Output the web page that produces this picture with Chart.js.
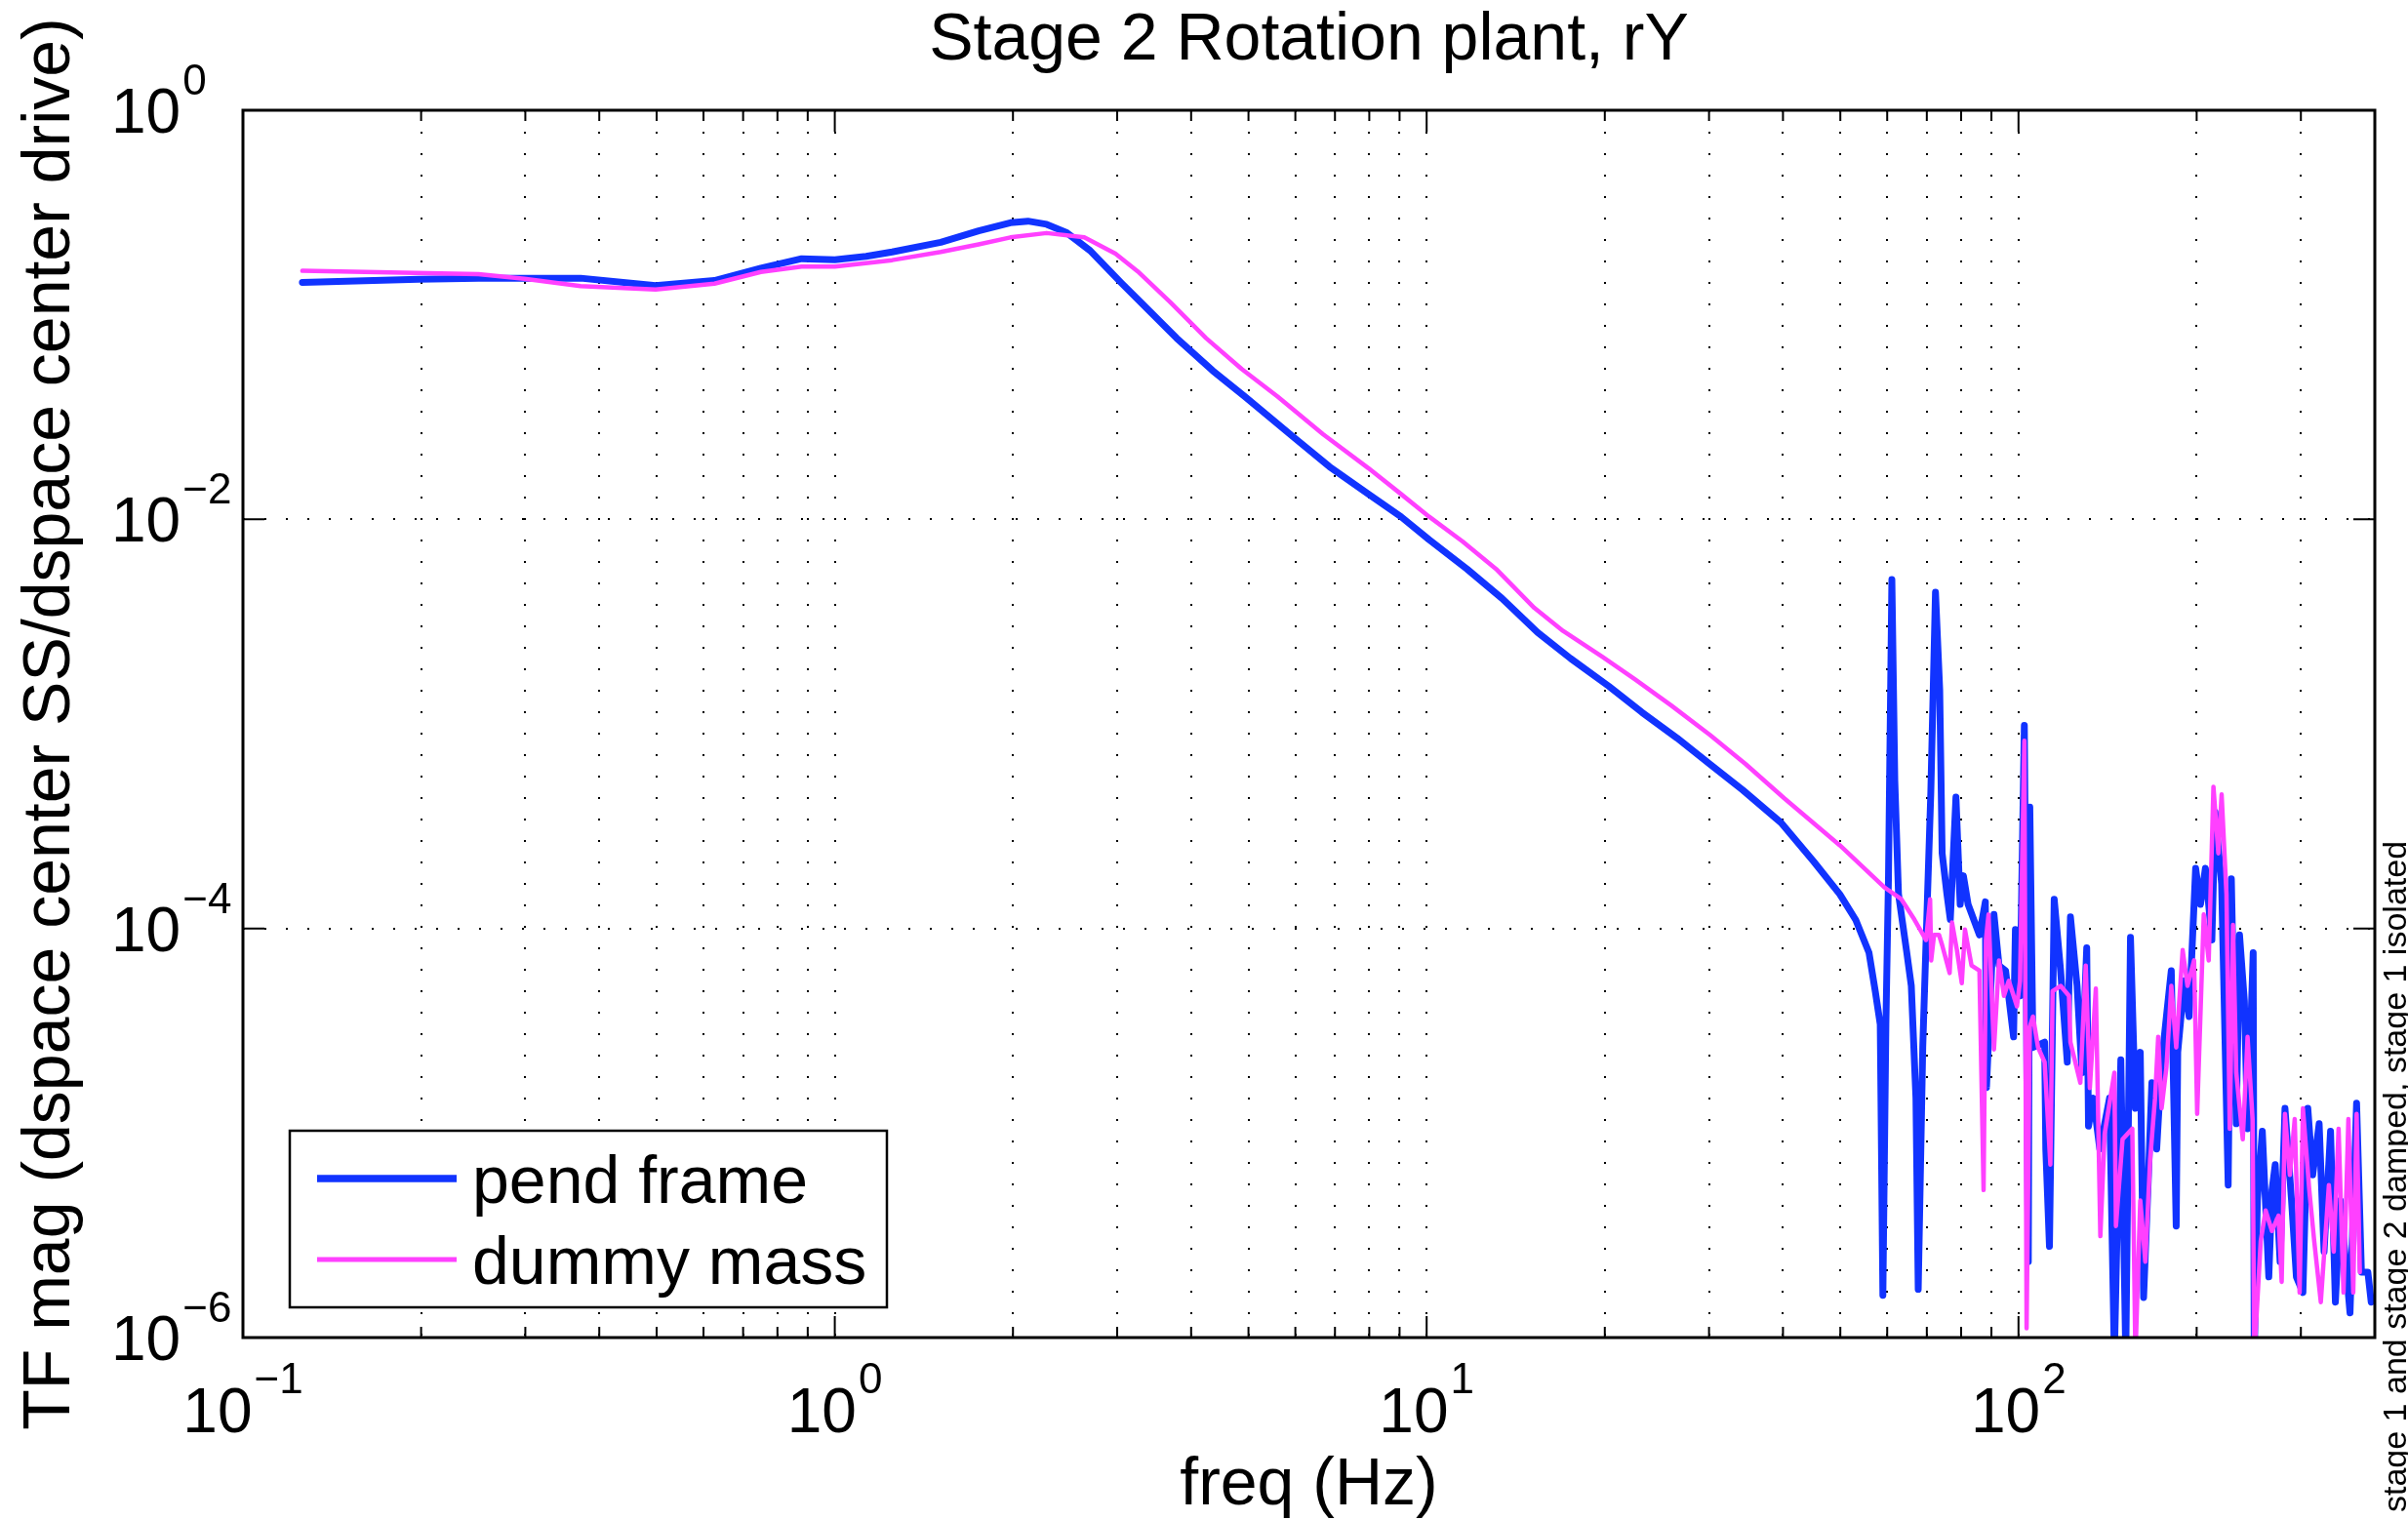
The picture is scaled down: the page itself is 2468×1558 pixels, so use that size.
<!DOCTYPE html>
<html>
<head>
<meta charset="utf-8">
<title>Stage 2 Rotation plant, rY</title>
<script src="https://cdn.jsdelivr.net/npm/chart.js@4.4.1/dist/chart.umd.min.js"></script>
<style>
  html, body { margin: 0; padding: 0; background: #fff; }
</style>
</head>
<body>
<canvas id="grafico" width="2468" height="1558"></canvas>
<script>
// textos
const titulo = "Stage 2 Rotation plant, rY";
const etiquetaX = "freq (Hz)";
const etiquetaY = "TF mag (dspace center SS/dspace center drive)";
const nota = "stage 1 and stage 2 damped, stage 1 isolated";
const nombres = ["pend frame", "dummy mass"];

// ticks con etiqueta (10^exp)
const xTickValues = [0.1, 1, 10, 100];
const xTickExp = ["\u22121", "0", "1", "2"];
const yTickValues = [1, 1e-2, 1e-4, 1e-6];
const yTickExp = ["0", "\u22122", "\u22124", "\u22126"];

// lineas de grilla verticales (1..9 x decada)
const xGridValues = [
  0.1, 0.2, 0.3, 0.4, 0.5, 0.6, 0.7, 0.8, 0.9,
  1, 2, 3, 4, 5, 6, 7, 8, 9,
  10, 20, 30, 40, 50, 60, 70, 80, 90,
  100, 200, 300, 400
];

// pend frame (azul)
const pendFreq = [
  0.126, 0.198, 0.250, 0.372, 0.498, 0.626, 0.750, 0.879, 1.00, 1.13,
  1.25, 1.51, 1.75, 1.98, 2.12, 2.28, 2.46, 2.70, 3.05, 3.29,
  3.78, 4.35, 4.93, 5.96, 6.85, 7.97, 9.05, 10.1, 11.7, 13.4,
  15.4, 17.5, 20.3, 23.1, 26.5, 30.1, 34.2, 39.7, 45.1, 49.9,
  53.1, 55.9, 57.3, 58.4, 59.0, 59.7, 60.3, 61.1, 61.8, 62.7,
  64.7, 65.9, 67.1, 67.7, 68.9, 70.2, 71.1, 72.4, 73.6, 74.3,
  75.7, 76.7, 78.4, 79.7, 80.7, 82.2, 85.9, 87.9, 88.3, 90.9,
  92.7, 95.1, 98.1, 98.8, 100.6, 102.3, 103.9, 104.5, 105.8, 110.7,
  111.2, 112.8, 114.9, 117.8, 120.9, 122.4, 125.6, 128.0, 130.4, 131.3,
  133.8, 137.2, 142.5, 145.2, 148.9, 151.8, 154.6, 157.6, 160.6, 162.7,
  165.8, 168.0, 171.2, 174.5, 177.8, 181.2, 184.7, 185.8, 190.6, 194.2,
  199.2, 203.0, 206.9, 212.2, 214.9, 220.4, 226.1, 228.9, 233.3, 236.3,
  240.8, 243.8, 249.2, 250.2, 253.3, 258.2, 264.8, 268.1, 271.5, 276.7,
  282.0, 289.3, 294.8, 302.4, 308.2, 314.1, 322.1, 328.3, 336.7, 343.1,
  349.8, 363.2, 372.6, 379.7, 389.3, 394.4
];
const pendMag = [
  0.144, 0.149, 0.151, 0.151, 0.139, 0.147, 0.169, 0.188, 0.186, 0.193,
  0.203, 0.226, 0.257, 0.282, 0.287, 0.277, 0.253, 0.206, 0.143, 0.115,
  0.0769, 0.0533, 0.0398, 0.0252, 0.0181, 0.0133, 0.0103, 0.00795, 0.00572, 0.00411,
  0.00280, 0.00209, 0.00153, 0.00114, 8.52e-4, 6.36e-4, 4.75e-4, 3.29e-4, 2.12e-4, 1.47e-4,
  1.10e-4, 7.61e-5, 4.90e-5, 3.40e-5, 1.61e-6, 3.40e-5, 1.77e-4, 5.08e-3, 5.30e-4, 1.47e-4,
  7.75e-5, 5.24e-5, 1.48e-5, 1.72e-6, 2.62e-5, 1.47e-4, 4.65e-4, 4.41e-3, 1.47e-3, 2.33e-4,
  1.47e-4, 1.105e-4, 4.39e-4, 1.31e-4, 1.81e-4, 1.31e-4, 9.30e-5, 1.35e-4, 1.67e-5, 1.17e-4,
  6.59e-5, 6.22e-5, 2.95e-5, 9.87e-5, 4.68e-5, 9.83e-4, 2.35e-6, 3.92e-4, 2.62e-5, 2.78e-5,
  8.34e-6, 2.79e-6, 1.39e-4, 6.22e-5, 2.22e-5, 1.14e-4, 5.24e-5, 1.97e-5, 8.05e-5, 1.08e-5,
  1.48e-5, 8.34e-6, 1.48e-5, 8e-7, 2.28e-5, 8e-7, 9.04e-5, 1.32e-5, 2.48e-5, 1.57e-6,
  6.24e-6, 1.76e-5, 8.34e-6, 2.22e-5, 3.71e-5, 6.22e-5, 3.51e-6, 2.48e-5, 5.55e-5, 3.71e-5,
  1.97e-4, 1.31e-4, 1.97e-4, 8.78e-5, 3.70e-4, 1.65e-4, 5.56e-6, 1.75e-4, 1.11e-5, 9.30e-5,
  4.41e-5, 1.05e-5, 7.61e-5, 8e-7, 4.68e-6, 1.02e-5, 1.98e-6, 5.26e-6, 7.00e-6, 2.35e-6,
  1.32e-5, 4.68e-6, 1.98e-6, 1.66e-6, 1.32e-5, 6.24e-6, 1.11e-5, 2.63e-6, 1.02e-5, 1.49e-6,
  4.68e-6, 1.32e-6, 1.40e-5, 2.09e-6, 2.09e-6, 1.49e-6
];

// dummy mass (magenta)
const dummyFreq = [
  0.126, 0.250, 0.299, 0.372, 0.498, 0.626, 0.750, 0.879, 1.00, 1.25,
  1.51, 1.75, 1.98, 2.28, 2.64, 2.98, 3.25, 3.69, 4.24, 4.87,
  5.60, 6.68, 7.97, 9.05, 10.1, 11.5, 13.1, 15.2, 17.0, 19.8,
  22.5, 25.9, 30.1, 34.6, 40.2, 49.9, 59.5, 63.4, 66.7, 69.8,
  70.9, 71.2, 72.0, 73.4, 74.3, 76.5, 77.2, 78.7, 80.2, 81.2,
  83.3, 85.9, 87.3, 88.1, 89.0, 90.9, 92.7, 94.5, 96.3, 99.4,
  100.6, 102.3, 103.2, 104.5, 105.8, 107.9, 110.7, 113.2, 114.2, 117.8,
  121.7, 122.4, 127.2, 129.9, 132.0, 135.1, 137.5, 139.8, 145.2, 146.1,
  149.9, 155.7, 157.6, 160.6, 163.8, 166.9, 170.1, 172.2, 174.5, 177.8,
  181.2, 184.7, 189.4, 193.0, 198.0, 200.4, 205.6, 209.6, 213.5, 217.6,
  220.4, 224.6, 227.5, 230.4, 233.3, 239.3, 243.8, 248.6, 250.2, 256.6,
  261.5, 268.1, 275.0, 278.4, 282.0, 287.4, 292.9, 298.5, 302.4, 310.0,
  316.0, 324.2, 334.5, 340.9, 347.4, 354.1, 360.9, 367.8, 372.6, 377.3
];
const dummyMag = [
  0.164, 0.158, 0.150, 0.138, 0.133, 0.142, 0.162, 0.172, 0.172, 0.185,
  0.203, 0.221, 0.239, 0.251, 0.239, 0.199, 0.163, 0.115, 0.0769, 0.0543,
  0.0398, 0.0261, 0.0178, 0.0133, 0.0103, 0.00780, 0.00572, 0.00369, 0.00285, 0.00213,
  0.00165, 0.00123, 8.84e-4, 6.36e-4, 4.33e-4, 2.55e-4, 1.58e-4, 1.39e-4, 1.105e-4, 8.78e-5,
  1.39e-4, 6.98e-5, 9.30e-5, 9.30e-5, 8.29e-5, 6.05e-5, 1.07e-4, 7.84e-5, 5.40e-5, 9.87e-5,
  6.59e-5, 6.22e-5, 5.26e-6, 8.78e-5, 1.17e-4, 2.56e-5, 6.98e-5, 4.68e-5, 5.55e-5, 4.16e-5,
  5.55e-5, 8.27e-4, 1.11e-6, 3.31e-5, 3.71e-5, 2.62e-5, 2.22e-5, 7.00e-6, 4.94e-5, 5.24e-5,
  4.68e-5, 2.78e-5, 1.76e-5, 6.59e-5, 1.66e-5, 5.08e-5, 3.13e-6, 9.88e-6, 1.97e-5, 3.51e-6,
  9.31e-6, 1.05e-5, 8e-7, 4.68e-6, 2.35e-6, 7.42e-6, 1.48e-5, 2.95e-5, 1.32e-5, 2.09e-5,
  5.24e-5, 2.62e-5, 7.84e-5, 5.24e-5, 6.98e-5, 1.24e-5, 1.17e-4, 6.98e-5, 4.93e-4, 2.33e-4,
  4.52e-4, 1.47e-4, 1.05e-5, 1.04e-4, 1.97e-5, 9.31e-6, 2.95e-5, 1.17e-5, 8e-7, 2.96e-6,
  4.18e-6, 3.32e-6, 3.94e-6, 1.87e-6, 1.24e-5, 6.24e-6, 1.17e-5, 1.66e-6, 1.32e-5, 5.26e-6,
  2.96e-6, 1.49e-6, 5.56e-6, 2.63e-6, 1.05e-5, 1.66e-6, 1.17e-5, 1.66e-6, 1.24e-5, 2.09e-6
];

const fuente = '"Liberation Sans", Arial, Helvetica, sans-serif';
const azul = "#1133ff";
const magenta = "#ff40ff";

function puntos(freqs, mags) {
  return freqs.map((f, i) => ({ x: f, y: mags[i] }));
}

function dibujarPotencia(ctx, exp, left, baseline, expBaseline) {
  ctx.font = "64px " + fuente;
  const w = ctx.measureText("10").width;
  ctx.fillText("10", left, baseline);
  ctx.font = "44px " + fuente;
  ctx.fillText(exp, left + w + 2, expBaseline);
}

function anchoPotencia(ctx, exp) {
  ctx.font = "64px " + fuente;
  const w1 = ctx.measureText("10").width;
  ctx.font = "44px " + fuente;
  return w1 + 2 + ctx.measureText(exp).width;
}

// marco, ticks interiores, etiquetas, leyenda y textos estilo matlab
const marcoPlugin = {
  id: "marco",
  afterDraw(chart) {
    const { ctx, chartArea: a, scales } = chart;
    const sx = scales.x, sy = scales.y;
    ctx.save();
    ctx.fillStyle = "#000";
    ctx.strokeStyle = "#000";

    // ticks
    ctx.lineWidth = 2;
    ctx.beginPath();
    xGridValues.forEach(v => {
      const px = sx.getPixelForValue(v);
      const len = xTickValues.includes(v) ? 22 : 11;
      ctx.moveTo(px, a.bottom); ctx.lineTo(px, a.bottom - len);
      ctx.moveTo(px, a.top); ctx.lineTo(px, a.top + len);
    });
    yTickValues.forEach(v => {
      const py = sy.getPixelForValue(v);
      ctx.moveTo(a.left, py); ctx.lineTo(a.left + 22, py);
      ctx.moveTo(a.right, py); ctx.lineTo(a.right - 22, py);
    });
    ctx.stroke();

    // marco
    ctx.lineWidth = 3;
    ctx.strokeRect(a.left, a.top, a.right - a.left, a.bottom - a.top);

    // etiquetas de ticks
    ctx.textAlign = "left";
    ctx.textBaseline = "alphabetic";
    xTickValues.forEach((v, i) => {
      const px = sx.getPixelForValue(v);
      const w = anchoPotencia(ctx, xTickExp[i]);
      dibujarPotencia(ctx, xTickExp[i], px - w / 2, a.bottom + 97, a.bottom + 57);
    });
    yTickValues.forEach((v, i) => {
      const py = sy.getPixelForValue(v);
      dibujarPotencia(ctx, yTickExp[i], 114, py + 23, py - 16);
    });

    // titulo y ejes
    ctx.font = "68px " + fuente;
    ctx.textAlign = "center";
    const cx = (a.left + a.right) / 2;
    ctx.fillText(titulo, cx, 61);
    ctx.fillText(etiquetaX, cx, 1542);
    ctx.save();
    ctx.translate(71, (a.top + a.bottom) / 2);
    ctx.rotate(-Math.PI / 2);
    ctx.fillText(etiquetaY, 0, 0);
    ctx.restore();

    // nota al costado
    ctx.save();
    ctx.font = "34px " + fuente;
    ctx.textAlign = "left";
    ctx.translate(2466, 1550);
    ctx.rotate(-Math.PI / 2);
    ctx.fillText(nota, 0, 0);
    ctx.restore();

    // leyenda
    const caja = { x: 297, y: 1159, w: 612, h: 181 };
    ctx.fillStyle = "#fff";
    ctx.fillRect(caja.x, caja.y, caja.w, caja.h);
    ctx.lineWidth = 2.5;
    ctx.strokeRect(caja.x, caja.y, caja.w, caja.h);
    const filas = [1208, 1291];
    chart.data.datasets.forEach((ds, i) => {
      ctx.strokeStyle = ds.borderColor;
      ctx.lineWidth = i === 0 ? 7.5 : 5;
      ctx.beginPath();
      ctx.moveTo(325, filas[i]);
      ctx.lineTo(468, filas[i]);
      ctx.stroke();
      ctx.fillStyle = "#000";
      ctx.font = "68px " + fuente;
      ctx.textAlign = "left";
      ctx.fillText(ds.label, 484, filas[i] + 25);
    });
    ctx.restore();
  }
};

const config = {
  type: "line",
  data: {
    datasets: [
      {
        label: nombres[0],
        data: puntos(pendFreq, pendMag),
        borderColor: azul,
        borderWidth: 7,
        order: 1
      },
      {
        label: nombres[1],
        data: puntos(dummyFreq, dummyMag),
        borderColor: magenta,
        borderWidth: 4.5,
        order: 0
      }
    ]
  },
  options: {
    responsive: false,
    devicePixelRatio: 1,
    animation: false,
    layout: { padding: { left: 249, top: 113, right: 34, bottom: 187 } },
    elements: {
      point: { radius: 0, hoverRadius: 0 },
      line: { tension: 0, borderJoinStyle: "round", borderCapStyle: "round", fill: false }
    },
    datasets: { line: { clip: 0 } },
    plugins: { legend: { display: false }, tooltip: { enabled: false } },
    scales: {
      x: {
        type: "logarithmic",
        min: 0.1,
        max: 400,
        afterBuildTicks: axis => { axis.ticks = xGridValues.map(v => ({ value: v })); },
        ticks: { display: false },
        grid: { color: "#000", lineWidth: 2, drawTicks: false },
        border: { display: false, dash: [2, 20] }
      },
      y: {
        type: "logarithmic",
        min: 1e-6,
        max: 1,
        afterBuildTicks: axis => { axis.ticks = yTickValues.map(v => ({ value: v })); },
        ticks: { display: false },
        grid: { color: "#000", lineWidth: 2, drawTicks: false },
        border: { display: false, dash: [2, 20] }
      }
    }
  },
  plugins: [marcoPlugin]
};

const grafico = new Chart(document.getElementById("grafico"), config);
</script>
</body>
</html>
